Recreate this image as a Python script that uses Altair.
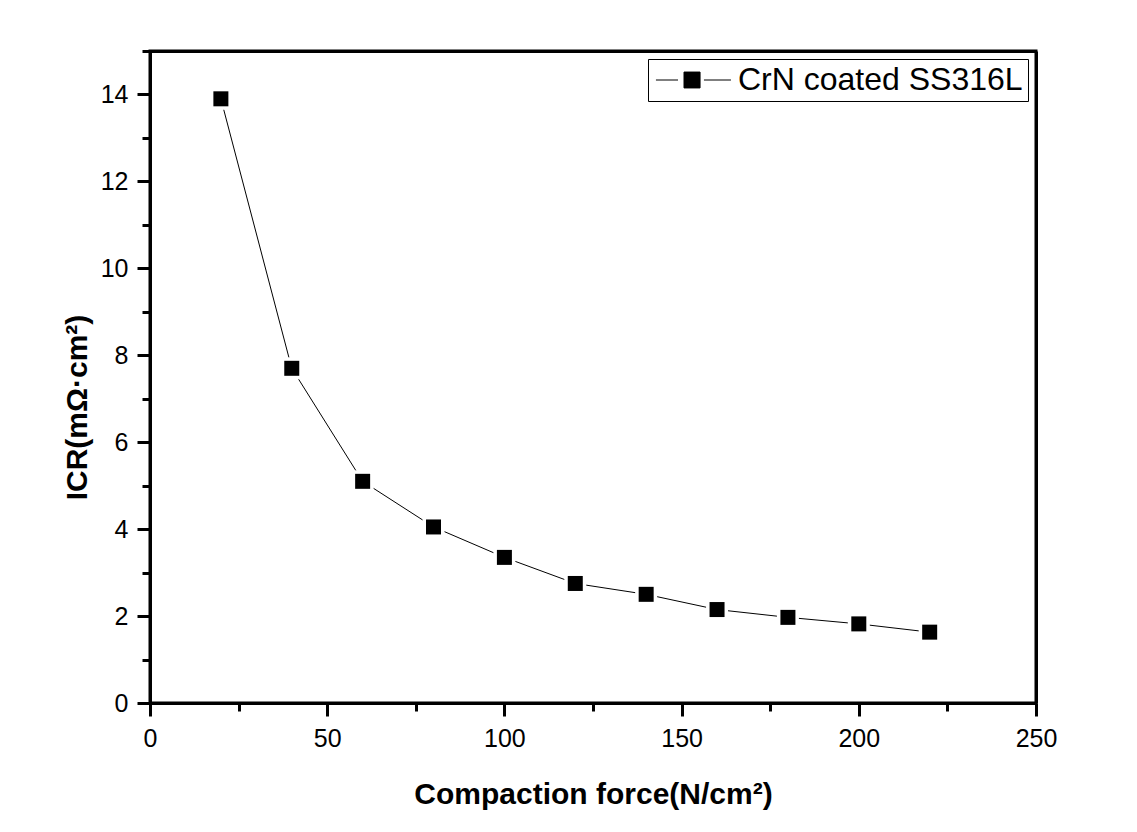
import altair as alt
import pandas as pd

force = [20, 40, 60, 80, 100, 120, 140, 160, 180, 200, 220]
icr = [13.9, 7.7, 5.1, 4.05, 3.35, 2.75, 2.5, 2.15, 1.97, 1.82, 1.63]
series_name = "CrN coated SS316L"

x_major = [0, 50, 100, 150, 200, 250]
x_minor = [25, 75, 125, 175, 225]
y_major = [0, 2, 4, 6, 8, 10, 12, 14]
y_minor = [1, 3, 5, 7, 9, 11, 13, 15]

df = pd.DataFrame({"force": force, "icr": icr, "series": [series_name] * len(force)})

FONT = "Liberation Sans"
xs = alt.Scale(domain=[0, 250], nice=False, zero=True)
ys = alt.Scale(domain=[0, 15], nice=False, zero=True)

x_major_axis = alt.Axis(
    values=x_major, orient="bottom", tickSize=13, tickWidth=3, tickColor="black",
    domainWidth=3, domainColor="black", labelFont=FONT, labelFontSize=25,
    labelColor="black", labelPadding=10, labelFlush=False,
    title="Compaction force(N/cm²)", titleFont=FONT, titleFontSize=30,
    titleFontWeight="bold", titleColor="black", titleBaseline="alphabetic",
    titleY=100, grid=False,
)
y_major_axis = alt.Axis(
    values=y_major, orient="left", tickSize=13, tickWidth=3, tickColor="black",
    domainWidth=3, domainColor="black", labelFont=FONT, labelFontSize=25,
    labelColor="black", labelPadding=9, labelFlush=False,
    title="ICR(mΩ·cm²)", titleFont=FONT, titleFontSize=30,
    titleFontWeight="bold", titleColor="black", titleBaseline="alphabetic",
    titleX=-64, titleY=356, grid=False,
)
x_minor_axis = alt.Axis(
    values=x_minor, orient="bottom", tickSize=8, tickWidth=3, tickColor="black",
    domain=False, labels=False, title=None, grid=False,
)
y_minor_axis = alt.Axis(
    values=y_minor, orient="left", tickSize=8, tickWidth=3, tickColor="black",
    domain=False, labels=False, title=None, grid=False,
)
x_top_axis = alt.Axis(
    orient="top", ticks=False, labels=False, domainWidth=3, domainColor="black",
    title=None, grid=False,
)
y_right_axis = alt.Axis(
    orient="right", ticks=False, labels=False, domainWidth=3, domainColor="black",
    title=None, grid=False,
)

line = alt.Chart(df).mark_line(color="black", strokeWidth=1, interpolate="linear").encode(
    x=alt.X("force:Q", scale=xs, axis=x_major_axis),
    y=alt.Y("icr:Q", scale=ys, axis=y_major_axis),
)

halo = alt.Chart(df).mark_point(
    shape="square", filled=True, size=484, opacity=1, color="white", strokeWidth=0
).encode(
    x=alt.X("force:Q", scale=xs, axis=None),
    y=alt.Y("icr:Q", scale=ys, axis=None),
)

legend_path = "M-0.87,0H0.6M2.33,0H4.13M1,-0.53H2.07V0.53H1Z"

points = alt.Chart(df).mark_point(
    shape="square", filled=True, size=225, opacity=1, stroke="black", strokeWidth=0
).encode(
    x=alt.X("force:Q", scale=xs, axis=None),
    y=alt.Y("icr:Q", scale=ys, axis=None),
    color=alt.Color(
        "series:N",
        scale=alt.Scale(range=["black"]),
        legend=alt.Legend(
            title=None, orient="top-right", offset=8, padding=5,
            strokeColor="black", fillColor="white",
            symbolType=legend_path, symbolSize=900, symbolStrokeWidth=1,
            symbolStrokeColor="black", symbolFillColor="black",
            labelFont=FONT, labelFontSize=32, labelColor="black",
            labelOffset=53, labelLimit=0,
        ),
    ),
)

minor = alt.Chart(df).mark_point(opacity=0).encode(
    x=alt.X("force:Q", scale=xs, axis=x_minor_axis),
    y=alt.Y("icr:Q", scale=ys, axis=y_minor_axis),
)

frame = alt.Chart(df).mark_point(opacity=0).encode(
    x=alt.X("force:Q", scale=xs, axis=x_top_axis),
    y=alt.Y("icr:Q", scale=ys, axis=y_right_axis),
)

chart = (
    alt.layer(line, halo, points, minor, frame)
    .resolve_axis(x="independent", y="independent")
    .properties(
        width=886, height=652,
        autosize=alt.AutoSizeParams(type="none"),
        padding={"left": 142, "top": 43, "right": 80, "bottom": 115},
    )
    .configure_view(stroke="black", strokeWidth=3)
    .configure_axis(grid=False)
    .configure_legend(strokeColor="black", strokeWidth=1)
)

chart.save("out.html", embed_options={"renderer": "svg", "actions": False})
